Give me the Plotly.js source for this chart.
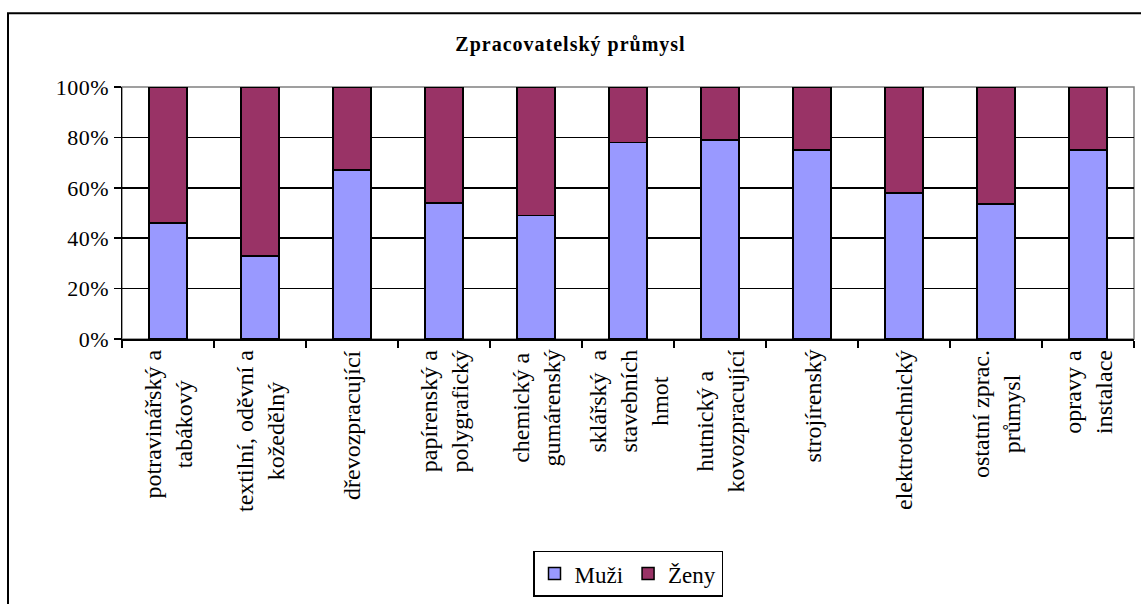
<!DOCTYPE html>
<html>
<head>
<meta charset="utf-8">
<script src="https://cdn.plot.ly/plotly-3.0.1.min.js"></script>
<style>
  html, body { margin: 0; padding: 0; background: #fff; }
  #chart { width: 1141px; height: 604px; }
  /* Excel-like roztažené písmo */
  #chart .ytick text { letter-spacing: 0.5px; }
  #chart .gtitle { letter-spacing: 1px; }
</style>
</head>
<body>
<div id="chart"></div>
<script>
// odvětví zpracovatelského průmyslu
let categories = [
    "potravinářský a<br>tabákový",
    "textilní, oděvní a<br>kožedělný",
    "dřevozpracující",
    "papírenský a<br>polygrafický",
    "chemický a<br>gumárenský",
    "sklářský  a<br>stavebních<br>hmot",
    "hutnický a<br>kovozpracující",
    "strojírenský",
    "elektrotechnický",
    "ostatní zprac.<br>průmysl",
    "opravy a<br>instalace"
];
let muzi = [46, 33, 67, 54, 49, 78, 79, 75, 58, 53.5, 75];
let zeny = [54, 67, 33, 46, 51, 22, 21, 25, 42, 46.5, 25];
let yTicks = [0, 20, 40, 60, 80, 100];

let serif = 'Liberation Serif, Times New Roman, serif';

// popisky kategorií jako anotace (řádky centrované jako v Excelu)
let labels = [];
for (let c of categories) {
    labels.push({
        x: c,
        y: 0,
        xref: 'x',
        yref: 'paper',
        text: c,
        textangle: -90,
        showarrow: false,
        xanchor: 'center',
        yanchor: 'top',
        yshift: -9,
        align: 'center',
        font: { family: serif, size: 24, color: '#000' }
    });
}

let traces = [{
    x: categories,
    y: muzi,
    name: 'Muži',
    type: 'bar',
    marker: { color: '#9999FF', line: { color: '#000', width: 1.5 } }
}, {
    x: categories,
    y: zeny,
    name: 'Ženy',
    type: 'bar',
    marker: { color: '#993366', line: { color: '#000', width: 1.5 } }
}];

let layout = {
    width: 1141,
    height: 604,
    margin: { l: 122, r: 7, t: 87, b: 261 },
    paper_bgcolor: '#fff',
    plot_bgcolor: '#fff',
    barmode: 'stack',
    bargap: 0.59,
    showlegend: true,
    title: {
        text: 'Zpracovatelský průmysl',
        font: { family: serif, size: 20, weight: 'bold', color: '#000' },
        x: 0.5,
        y: 1 - 44 / 604,
        yanchor: 'middle'
    },
    xaxis: {
        type: 'category',
        showticklabels: false,
        showgrid: false,
        showline: true,
        linecolor: '#000',
        linewidth: 1.5,
        ticks: 'outside',
        tickson: 'boundaries',
        ticklen: 7,
        tickcolor: '#000',
        tickwidth: 1.5,
        fixedrange: true
    },
    yaxis: {
        range: [0, 100],
        tickvals: yTicks,
        ticktext: yTicks.map(v => v + '%'),
        showgrid: true,
        gridcolor: '#000',
        gridwidth: 1.5,
        zeroline: false,
        showline: true,
        linecolor: '#000',
        linewidth: 1.5,
        ticks: 'outside',
        ticklen: 7,
        tickcolor: '#000',
        tickwidth: 1.5,
        tickfont: { family: serif, size: 22, color: '#000' },
        fixedrange: true
    },
    legend: {
        orientation: 'h',
        traceorder: 'normal',
        x: 0.5,
        xanchor: 'center',
        y: (343 - 558) / 256,
        yanchor: 'top',
        bordercolor: '#000',
        borderwidth: 1.5,
        bgcolor: '#fff',
        font: { family: serif, size: 23, color: '#000' },
        itemwidth: 30
    },
    annotations: labels,
    shapes: [{
        // šedý rámeček plochy grafu
        type: 'rect', xref: 'paper', yref: 'paper',
        x0: 0, x1: 1, y0: 0, y1: 1,
        line: { color: '#808080', width: 1.5 },
        layer: 'below'
    }, {
        // vnější rámeček celého grafu
        type: 'rect', xref: 'paper', yref: 'paper',
        x0: (8 - 122) / 1012, x1: 1.05,
        y0: -1.2, y1: (343 - 12) / 256,
        line: { color: '#000', width: 2 }
    }]
};

Plotly.newPlot('chart', traces, layout, { displayModeBar: false, staticPlot: true });
</script>
</body>
</html>
